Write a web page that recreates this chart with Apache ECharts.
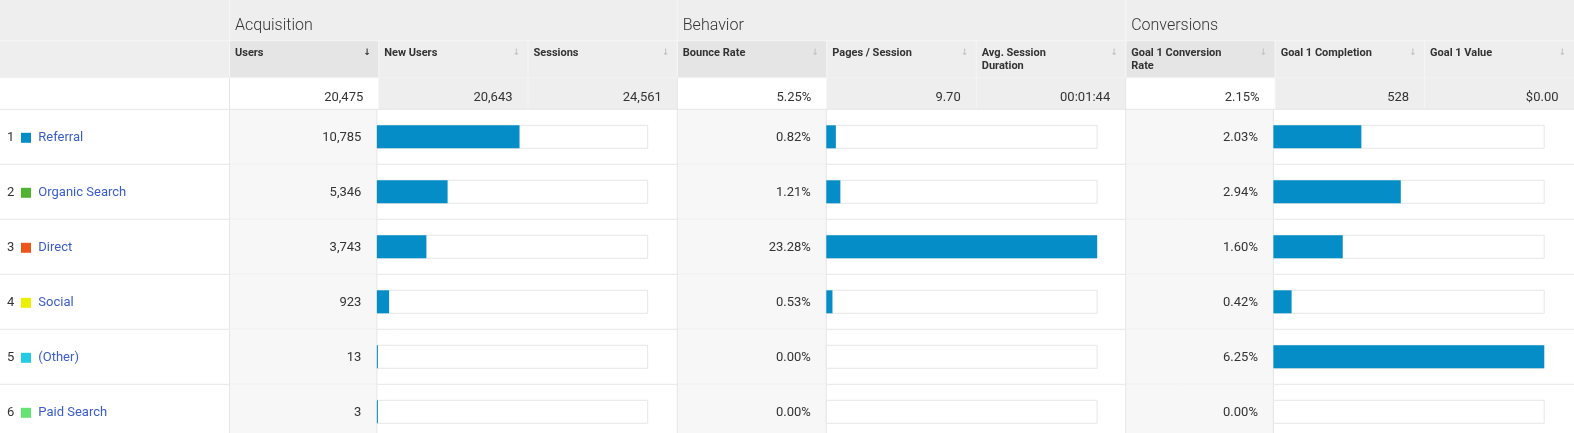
<!DOCTYPE html>
<html>
<head>
<meta charset="utf-8">
<script src="https://cdn.jsdelivr.net/npm/echarts@6/dist/echarts.min.js"></script>
<style>
html,body{margin:0;padding:0;background:#fff;}
#chart{width:1574px;height:433px;}
</style>
</head>
<body>
<div id="chart"></div>
<script>
// ---- data ----
const channels = ['Referral', 'Organic Search', 'Direct', 'Social', '(Other)', 'Paid Search'];
const channelColors = ['#058dc7', '#50b432', '#ed561b', '#edef00', '#24cbe5', '#64e572'];
const users = [10785, 5346, 3743, 923, 13, 3];
const bounceRate = [0.82, 1.21, 23.28, 0.53, 0.00, 0.00];
const convRate = [2.03, 2.94, 1.60, 0.42, 6.25, 0.00];
const groupTitles = ['Acquisition', 'Behavior', 'Conversions'];
const columnTitles = ['Users', 'New Users', 'Sessions', 'Bounce Rate', 'Pages / Session', 'Avg. Session\nDuration', 'Goal 1 Conversion\nRate', 'Goal 1 Completion', 'Goal 1 Value'];
const totals = ['20,475', '20,643', '24,561', '5.25%', '9.70', '00:01:44', '2.15%', '528', '$0.00'];
const totalUsers = 20475;
const sortedColumn = 0;

// ---- layout ----
const L = {W: 1574, labelW: 229.5, groupLeft: [229.5, 677.3, 1125.7], valW: [147.4, 149.0, 147.7],
           barW: 270.8, barH: 23, h1: 40.7, h2: 77.7, h3: 109.3, rowH: 55};
const groupRight = gi => (gi < 2 ? L.groupLeft[gi + 1] : L.W);
const FONT = 'Roboto, Arial, sans-serif';
const TXT = '#333333';
const LINK = '#3a5ccc';
const BAR = '#058dc7';
const LINE = '#e6e6e6';

const metricGroups = [
  {values: users, max: totalUsers, fmt: v => v.toLocaleString('en-US'), minH: 1},
  {values: bounceRate, max: Math.max.apply(null, bounceRate), fmt: v => v.toFixed(2) + '%', minH: 0},
  {values: convRate, max: Math.max.apply(null, convRate), fmt: v => v.toFixed(2) + '%', minH: 0}
];

// ---- header graphics ----
const g = [];
g.push({type: 'rect', shape: {x: 0, y: 0, width: L.W, height: L.h2}, style: {fill: '#eeeeee'}, z: 0});
g.push({type: 'rect', shape: {x: 0, y: L.h2, width: L.W, height: L.h3 - L.h2}, style: {fill: '#ffffff'}, z: 0});
groupTitles.forEach((t, gi) => {
  const gx = L.groupLeft[gi];
  g.push({type: 'line', shape: {x1: gx, y1: 0, x2: gx, y2: L.h2}, style: {stroke: '#f6f6f6', lineWidth: 1}, z: 2});
  g.push({type: 'text', x: gx + 5.5, y: 26, style: {text: t, font: '300 16px ' + FONT, fill: TXT, align: 'left', verticalAlign: 'middle', textAlign: 'left', textVerticalAlign: 'middle'}, z: 3});
});
columnTitles.forEach((t, ci) => {
  const gi = Math.floor(ci / 3), k = ci % 3;
  const colW = (groupRight(gi) - L.groupLeft[gi]) / 3;
  const x = L.groupLeft[gi] + k * colW;
  g.push({type: 'rect', shape: {x: x, y: L.h1, width: colW, height: L.h2 - L.h1}, style: {fill: k === 0 ? '#e5e5e5' : '#eeeeee'}, z: 1});
  g.push({type: 'rect', shape: {x: x, y: L.h2, width: colW, height: L.h3 - L.h2}, style: {fill: k === 0 ? '#ffffff' : '#eeeeee'}, z: 1});
  g.push({type: 'line', shape: {x1: x, y1: L.h1, x2: x, y2: L.h2}, style: {stroke: '#f6f6f6', lineWidth: 1}, z: 2});
  g.push({type: 'line', shape: {x1: x, y1: L.h2, x2: x, y2: L.h3}, style: {stroke: k === 0 ? '#e4e4e4' : '#f4f4f4', lineWidth: 1}, z: 2});
  g.push({type: 'text', x: x + 5.5, y: 46.6, style: {text: t, font: 'bold 11px ' + FONT, lineHeight: 13, fill: TXT, align: 'left', verticalAlign: 'top', textAlign: 'left', textVerticalAlign: 'top'}, z: 3});
  g.push({type: 'text', x: x + colW - 11.5, y: 53, style: {text: '\u2193', font: 'bold 9px "DejaVu Sans", sans-serif', fill: ci === sortedColumn ? '#333333' : '#c4c4c4', align: 'center', verticalAlign: 'middle', textAlign: 'center', textVerticalAlign: 'middle'}, z: 3});
  g.push({type: 'text', x: x + colW - 15.5, y: 98, style: {text: totals[ci], font: '13px ' + FONT, fill: TXT, align: 'right', verticalAlign: 'middle', textAlign: 'right', textVerticalAlign: 'middle'}, z: 3});
});
g.push({type: 'line', shape: {x1: 0, y1: L.h1, x2: L.W, y2: L.h1}, style: {stroke: '#f6f6f6', lineWidth: 1}, z: 2});
g.push({type: 'line', shape: {x1: 0, y1: L.h2, x2: L.W, y2: L.h2}, style: {stroke: '#f2f2f2', lineWidth: 1}, z: 2});
g.push({type: 'line', shape: {x1: 0, y1: L.h3, x2: L.W, y2: L.h3}, style: {stroke: LINE, lineWidth: 1}, z: 2});

// ---- grids ----
const nRows = channels.length;
const grids = [{left: 0, top: L.h3, width: L.W, height: L.rowH * nRows, outerBoundsMode: 'none'}];
const xAxes = [{gridIndex: 0, type: 'value', min: 0, max: 1, show: false}];
const yAxes = [{gridIndex: 0, type: 'category', data: channels, inverse: true, show: false}];
metricGroups.forEach((m, gi) => {
  grids.push({left: L.groupLeft[gi] + L.valW[gi], top: L.h3, width: L.barW, height: L.rowH * nRows, outerBoundsMode: 'none'});
  xAxes.push({gridIndex: gi + 1, type: 'value', min: 0, max: m.max, show: false});
  yAxes.push({gridIndex: gi + 1, type: 'category', data: channels, inverse: true, show: false});
});

function renderRow(params, api) {
  const i = api.value(0);
  const c = api.coord([0, i]);
  const h = api.size([0, 1])[1];
  const top = c[1] - h / 2, cy = c[1];
  const kids = [];
  metricGroups.forEach((m, gi) => {
    const gx = L.groupLeft[gi], vw = L.valW[gi];
    kids.push({type: 'rect', shape: {x: gx, y: top, width: vw, height: h}, style: {fill: '#f7f7f7'}});
    kids.push({type: 'line', shape: {x1: gx, y1: top, x2: gx, y2: top + h}, style: {stroke: LINE, lineWidth: 1}});
    kids.push({type: 'line', shape: {x1: gx + vw, y1: top, x2: gx + vw, y2: top + h}, style: {stroke: LINE, lineWidth: 1}});
    kids.push({type: 'text', style: {x: gx + vw - 15.5, y: cy + 0.5, text: m.fmt(m.values[i]), fill: TXT, fontSize: 13, fontFamily: FONT, align: 'right', verticalAlign: 'middle'}});
  });
  kids.push({type: 'line', shape: {x1: 0, y1: top + h, x2: L.W, y2: top + h}, style: {stroke: LINE, lineWidth: 1}});
  kids.push({type: 'text', style: {x: 7, y: cy + 1.2, text: String(i + 1), fill: TXT, fontSize: 13, fontFamily: FONT, align: 'left', verticalAlign: 'middle'}});
  kids.push({type: 'rect', shape: {x: 21, y: cy - 4, width: 10, height: 10}, style: {fill: channelColors[i]}});
  kids.push({type: 'text', style: {x: 38.3, y: cy + 1, text: channels[i], fill: LINK, fontSize: 13, fontFamily: FONT, align: 'left', verticalAlign: 'middle'}});
  return {type: 'group', children: kids};
}

const series = [{
  type: 'custom', xAxisIndex: 0, yAxisIndex: 0, z: 1, silent: true,
  renderItem: renderRow,
  data: channels.map((c, i) => [i]),
  encode: {y: 0}
}];
metricGroups.forEach((m, gi) => {
  series.push({
    type: 'bar', xAxisIndex: gi + 1, yAxisIndex: gi + 1, z: 5, silent: true,
    data: m.values, barWidth: L.barH, barMinHeight: m.minH,
    itemStyle: {color: BAR},
    showBackground: true,
    backgroundStyle: {color: '#ffffff', borderColor: LINE, borderWidth: 1},
    animation: false
  });
});

const chart = echarts.init(document.getElementById('chart'), null, {renderer: 'canvas'});
chart.setOption({
  animation: false,
  graphic: {elements: g},
  grid: grids,
  xAxis: xAxes,
  yAxis: yAxes,
  series: series
});
</script>
</body>
</html>
